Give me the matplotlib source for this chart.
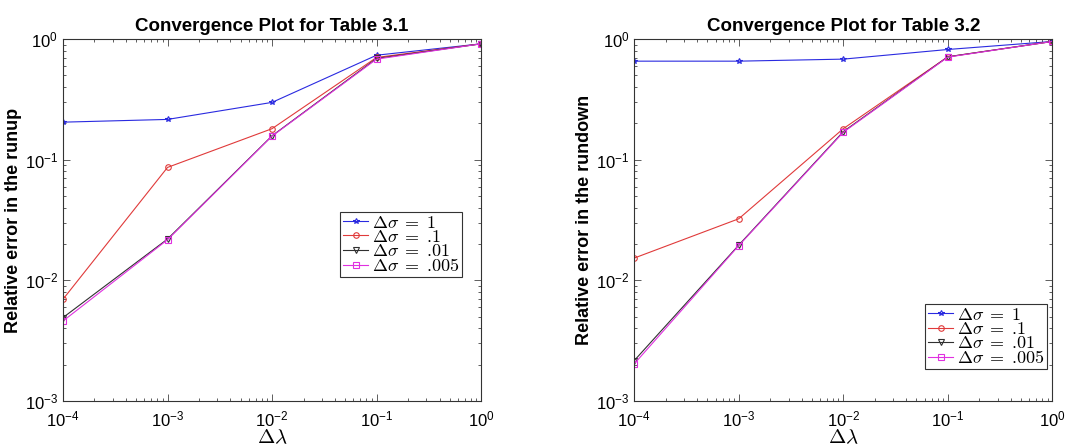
import matplotlib
matplotlib.use("Agg")
import matplotlib.pyplot as plt
from matplotlib.ticker import LogLocator, NullFormatter, FixedLocator
import numpy as np

plt.rcParams['font.family'] = ['Liberation Sans', 'DejaVu Sans']
plt.rcParams['mathtext.fontset'] = 'custom'
plt.rcParams['mathtext.rm'] = 'Liberation Sans'
plt.rcParams['mathtext.it'] = 'Liberation Sans:italic'

dlam = [1e-4, 1e-3, 1e-2, 1e-1, 1e0]
dsigma = ['1', '.1', '.01', '.005']

# Table 3.1: relative error in the runup
runup_1 = [0.205, 0.216, 0.299, 0.736, 0.915]
runup_01 = [0.00697, 0.0864, 0.181, 0.705, 0.915]
runup_001 = [0.00491, 0.0220, 0.158, 0.692, 0.915]
runup_0005 = [0.00460, 0.0217, 0.157, 0.683, 0.915]

# Table 3.2: relative error in the rundown
rundown_1 = [0.657, 0.657, 0.683, 0.821, 0.957]
rundown_01 = [0.0153, 0.0324, 0.181, 0.714, 0.957]
rundown_001 = [0.00216, 0.0196, 0.171, 0.714, 0.957]
rundown_0005 = [0.00203, 0.0194, 0.169, 0.710, 0.957]

styles = [('#2a2ae0', '*'), ('#e03a3a', 'o'), ('#303030', 'v'), ('#e030e0', 's')]
# number part kept outside mathtext so the leading dot gets no punctuation space
labels = [r'$\Delta\sigma\;=\;$' + d for d in dsigma]

fig = plt.figure(figsize=(10.86, 4.45), dpi=100)
ax1 = fig.add_axes([0.058, 0.099, 0.385, 0.813])
ax2 = fig.add_axes([0.584, 0.099, 0.385, 0.813])

def panel(ax, series, title, ylabel, legpos):
    for ys, (c, m), lab in zip(series, styles, labels):
        ax.plot(dlam, ys, color=c, marker=m, ms=4, mfc='none', mew=0.8, lw=0.8, label=lab)
    ax.set_xscale('log'); ax.set_yscale('log')
    ax.set_xlim(1e-4, 1); ax.set_ylim(1e-3, 1)
    ax.xaxis.set_major_locator(FixedLocator(dlam))
    ax.yaxis.set_major_locator(FixedLocator([1e-3, 1e-2, 1e-1, 1]))
    for a in (ax.xaxis, ax.yaxis):
        a.set_minor_locator(LogLocator(base=10, subs=np.arange(2, 10), numticks=20))
        a.set_minor_formatter(NullFormatter())
    ax.tick_params(which='both', direction='in', top=True, right=True, color='#444444', width=0.6)
    ax.tick_params(which='major', length=5, labelsize=12)
    ax.tick_params(axis='x', pad=6)
    ax.tick_params(which='minor', length=2.5)
    for s in ax.spines.values():
        s.set_linewidth(0.8); s.set_color('#333333')
    ax.set_title(title, fontsize=13.5, fontweight='bold', pad=6)
    ax.set_ylabel(ylabel, fontsize=13, fontweight='bold', labelpad=2)
    ax.set_xlabel(r'$\Delta\lambda$', fontsize=15, labelpad=-1, math_fontfamily='cm')
    leg = ax.legend(loc='lower left', bbox_to_anchor=legpos, fancybox=False, framealpha=1,
                    edgecolor='#333333', prop={'family': 'cmr10', 'size': 13},
                    borderpad=0.15, labelspacing=-0.1,
                    handlelength=1.4, handletextpad=0.2, borderaxespad=0)
    leg.get_frame().set_linewidth(0.8)
    for t in leg.get_texts():
        t.set_math_fontfamily('cm')

panel(ax1, [runup_1, runup_01, runup_001, runup_0005], 'Convergence Plot for Table 3.1',
      'Relative error in the runup', (0.663, 0.343))
panel(ax2, [rundown_1, rundown_01, rundown_001, rundown_0005], 'Convergence Plot for Table 3.2',
      'Relative error in the rundown', (0.696, 0.088))

fig.savefig('out.png', dpi=100)
